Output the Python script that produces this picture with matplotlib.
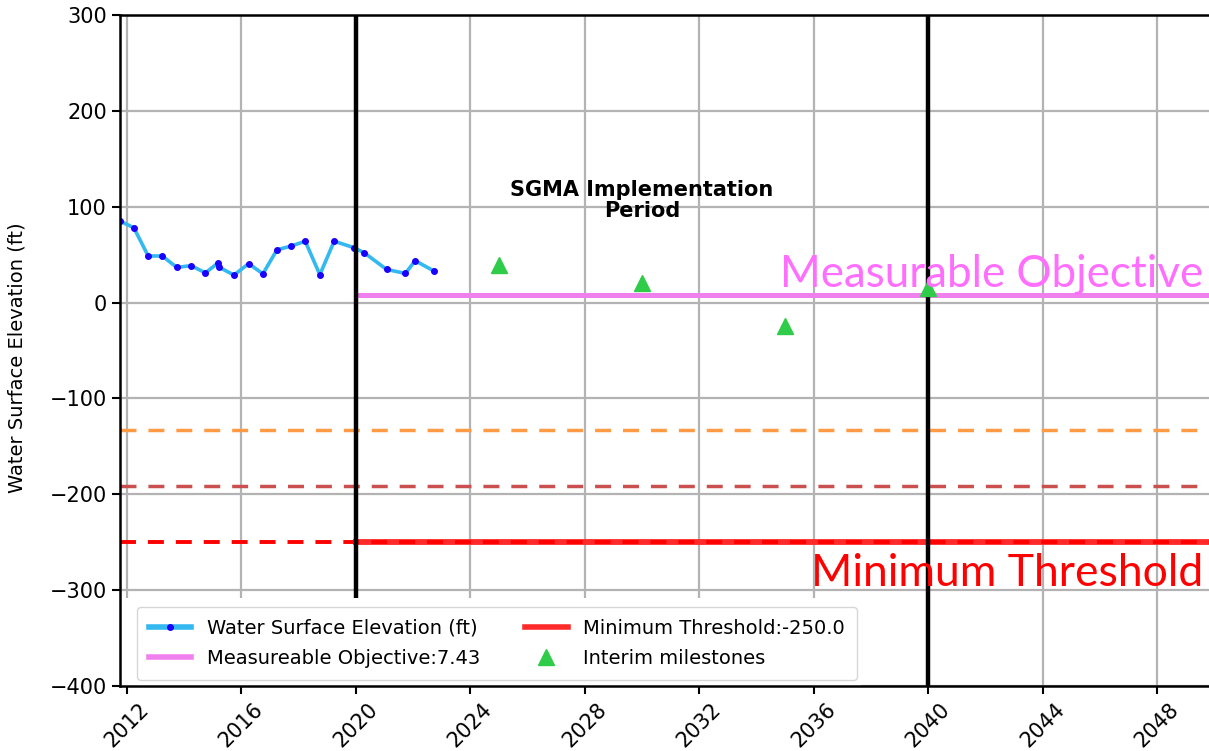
import matplotlib
matplotlib.use("Agg")
import matplotlib.pyplot as plt
from matplotlib.patches import Rectangle
from matplotlib.lines import Line2D

# ---- data ----
obs_years = [2011.76, 2012.24, 2012.74, 2013.23, 2013.74, 2014.24, 2014.74, 2015.18,
             2015.23, 2015.74, 2016.25, 2016.75, 2017.24, 2017.74, 2018.23, 2018.74,
             2019.24, 2019.93, 2020.30, 2021.07, 2021.73, 2022.07, 2022.73]
obs_elev = [85, 78, 48.6, 48.6, 36.7, 38.5, 31, 41.3, 36.7, 28.7, 40.6, 30,
            55, 59, 64, 29, 64, 57.3, 51.8, 34.6, 30.4, 43.7, 32.9]
milestone_years = [2025, 2030, 2035, 2040]
milestone_vals = [39, 20, -24, 15]
measurable_objective = 7.43
minimum_threshold = -250.0
orange_level = -133
brown_level = -191
sgma_start, sgma_end = 2020, 2040
x_ticks = list(range(2012, 2049, 4))
y_ticks = list(range(-400, 301, 100))

plt.rcParams['lines.scale_dashes'] = False

fig = plt.figure(figsize=(12.09, 7.51), dpi=100)
ax = fig.add_axes([120/1209, 65/751, (1214.2-120)/1209, (686-15)/751])
ax.set_xlim(2011.755, 2050)
ax.set_ylim(-400, 300)

ax.grid(True, color='#b3b3b3', lw=1.6)
ax.set_axisbelow(True)

dash = (0, (11.5, 8.6))
ax.axhline(orange_level, color='#ff9a45', lw=2.5, ls=dash, zorder=2)
ax.axhline(brown_level, color='#c9504f', lw=2.5, ls=dash, zorder=2)
ax.axhline(minimum_threshold, color='#ff0000', lw=2.8, ls=dash, zorder=2.2)
ax.plot([sgma_start, 2050], [minimum_threshold]*2, color='#ff2a2a', lw=4.2, zorder=2.1)
ax.plot([sgma_start, 2050], [measurable_objective]*2, color='#f080ee', lw=3.6, zorder=2.1)

ax.plot(obs_years, obs_elev, color='#33b8f0', lw=2.6, marker='o', ms=4,
        mfc='#1a00ff', mec='#1a00ff', zorder=2.3)

ax.axvline(sgma_start, color='black', lw=3.2, zorder=2.5)
ax.axvline(sgma_end, color='black', lw=3.2, zorder=2.5)

ax.plot(milestone_years, milestone_vals, ls='none', marker='^', ms=11,
        color='#2ecc48', zorder=2.55)

ax.add_patch(Rectangle((0, 0), 0.677, 0.131, transform=ax.transAxes,
                       facecolor='white', edgecolor='none', zorder=2.6))

ax.text(2030, 106.5, 'SGMA Implementation\nPeriod', ha='center', va='center',
        fontsize=15, fontweight='bold', linespacing=1.05, zorder=3)

ax.text(2049.6, 16.5, 'Measurable Objective', ha='right', va='baseline',
        color='#ff6eff', fontsize=31.6, family='Lato', zorder=3)
ax.text(2049.6, -296, 'Minimum Threshold', ha='right', va='baseline',
        color='#ff0000', fontsize=32, family='Lato', zorder=3)

ax.set_xticks(x_ticks)
ax.set_xticklabels([str(t) for t in x_ticks], rotation=45, fontsize=15)
ax.set_yticks(y_ticks)
ax.tick_params(axis='y', labelsize=15)
ax.tick_params(length=6, width=1.5)
for s in ax.spines.values():
    s.set_linewidth(1.8)
    s.set_zorder(2.8)
ax.set_ylabel('Water Surface Elevation (ft)', fontsize=14)
ax.yaxis.set_label_coords(-0.085, 0.49)

handles = [
    Line2D([], [], color='#33b8f0', lw=4, marker='o', ms=4, mfc='#1a00ff', mec='#1a00ff'),
    Line2D([], [], color='#f080ee', lw=4),
    Line2D([], [], color='#ff2a2a', lw=4),
    Line2D([], [], ls='none', marker='^', ms=11, color='#2ecc48'),
]
labels = ['Water Surface Elevation (ft)', 'Measureable Objective:7.43',
          'Minimum Threshold:-250.0', 'Interim milestones']
leg = ax.legend(handles, labels, ncol=2, fontsize=14, loc='lower left',
                bbox_to_anchor=(0.0155, 0.009), borderaxespad=0,
                borderpad=0.6, labelspacing=0.6,
                columnspacing=2.3, handlelength=2.2, framealpha=0.8)
leg.set_zorder(5)

fig.savefig('out.png', dpi=100)
